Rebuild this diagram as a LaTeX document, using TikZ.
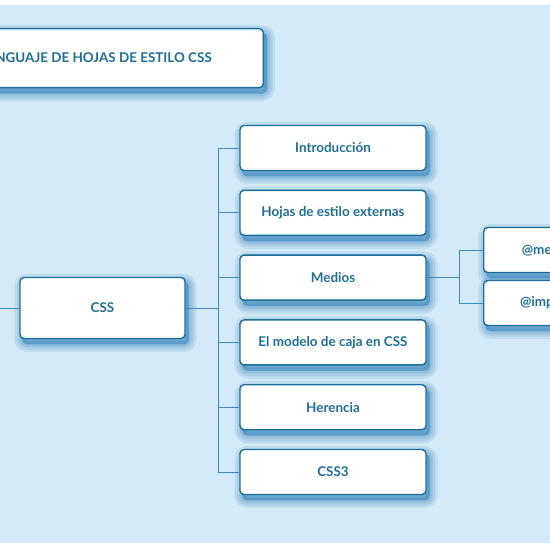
\documentclass[tikz,border=0pt]{standalone}
\usepackage{fontspec}
\setmainfont{Lato}
\usetikzlibrary{positioning, calc}
\definecolor{fondo}{HTML}{D4EAF8}
\definecolor{borde}{HTML}{1B6E96}
\definecolor{texto}{HTML}{1F6E98}
\definecolor{linea}{HTML}{3C8CBE}
\definecolor{sombra}{HTML}{2A7DB5}
\pgfdeclarelayer{fondocapa}
\pgfdeclarelayer{sombracapa}
\pgfsetlayers{fondocapa,sombracapa,main}

\begin{document}
\begin{tikzpicture}[
  x=1bp, y=-1bp,
  font=\fontsize{13.5}{16}\selectfont\bfseries,
  node distance=18.4bp,
  caja/.style={draw=borde, fill=white, line width=1.4bp, rounded corners=4bp,
               text=texto, align=center, inner sep=2pt,
               minimum width=186bp, minimum height=45bp},
  capa/.style={draw=sombra, fill=sombra, line join=round, rounded corners=5bp},
  conn/.style={draw=linea, line width=0.9bp}
]
\useasboundingbox (0,0) rectangle (550,550);
\clip (0,0) rectangle (550,550);

%--------------------------------------------------------------
% Titulo y nodo raiz
%--------------------------------------------------------------
\node[caja, minimum width=330bp, minimum height=59bp, anchor=north east] (titulo)
  at (264,28) {};
\node[text=texto, anchor=east, inner sep=0pt] (tittxt) at (212,58)
  {LENGUAJE DE HOJAS DE ESTILO CSS};

\node[caja, minimum width=165bp, minimum height=61bp] (css) at (102.5,308) {CSS};

%--------------------------------------------------------------
% Columna de temas
%--------------------------------------------------------------
\node[caja] (intro) at (333,148) {Introducción};
\node[caja, below=of intro] (hojas) {Hojas de estilo externas};
\node[caja, below=of hojas] (medios) {Medios};
\node[caja, below=of medios] (modelo) {El modelo de caja en CSS};
\node[caja, below=of modelo] (herencia) {Herencia};
\node[caja, below=of herencia] (css3) {CSS3};

%--------------------------------------------------------------
% Subtemas de Medios
%--------------------------------------------------------------
\node[caja, minimum width=124bp, anchor=west] (media) at (483,250) {@media};
\node[caja, minimum width=124bp, anchor=west] (import) at (483,303) {@import};

%--------------------------------------------------------------
% Conexiones
%--------------------------------------------------------------
\coordinate (izq) at (0,308);
\coordinate (tronco) at (218,308);
\coordinate (rama) at (459,0);

\draw[conn] (izq) -- (css.west);
\draw[conn] (css.east) -- (tronco);
\draw[conn] (tronco |- intro.west) -- (tronco |- css3.west);
\foreach \n in {intro, hojas, medios, modelo, herencia, css3}
  \draw[conn] (tronco |- \n.west) -- (\n.west);

\draw[conn] (medios.east) -- (rama |- medios.east);
\draw[conn] (rama |- media.west) -- (rama |- import.west);
\draw[conn] (rama |- media.west) -- (media.west);
\draw[conn] (rama |- import.west) -- (import.west);

%--------------------------------------------------------------
% Fondo y sombras difusas
%--------------------------------------------------------------
\begin{pgfonlayer}{fondocapa}
  \fill[fondo] (0,5) rectangle (550,543);
\end{pgfonlayer}
\begin{pgfonlayer}{sombracapa}
  \foreach \n in {titulo, css, intro, hojas, medios, modelo, herencia, css3, media, import}
    \foreach \w/\o in {16/0.12, 11/0.14, 6/0.16, 1/0.2}
      \draw[capa, line width=\w bp, opacity=\o]
        ([shift={(3,5)}]\n.north west) rectangle ([shift={(3,5)}]\n.south east);
\end{pgfonlayer}

\end{tikzpicture}
\end{document}
